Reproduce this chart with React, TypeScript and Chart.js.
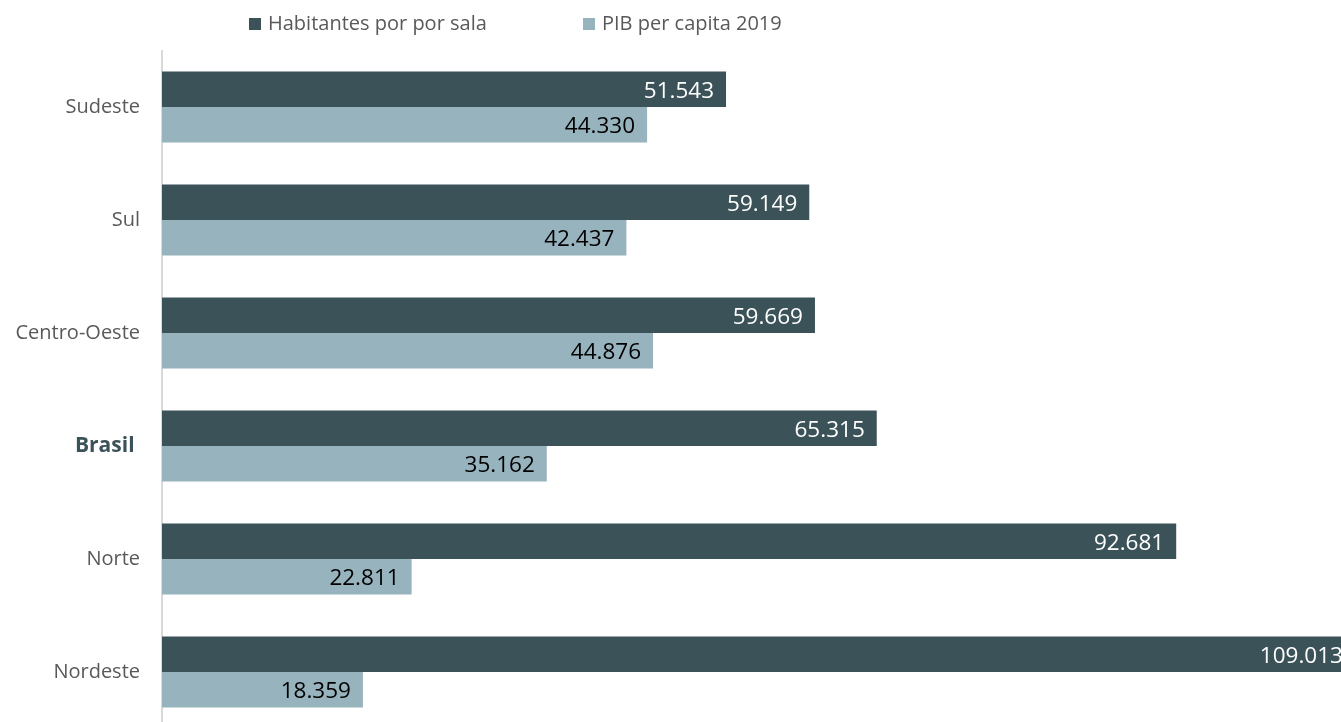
import React, { useEffect, useRef } from "react";
import { Chart, registerables } from "chart.js";

Chart.register(...registerables);

const categories = ["Sudeste", "Sul", "Centro-Oeste", "Brasil ", "Norte", "Nordeste"];
const habitantesPorSala = [51543, 59149, 59669, 65315, 92681, 109013];
const pibPerCapita = [44330, 42437, 44876, 35162, 22811, 18359];
const seriesNames = ["Habitantes por por sala", "PIB per capita 2019"];
const colors = ["#3b5258", "#97b3bd"];
const labelColors = ["#ffffff", "#000000"];

const fmt = (v: number) => {
  const s = Math.round(v).toString();
  return s.replace(/\B(?=(\d{3})+(?!\d))/g, ".");
};

const FONT = "'Open Sans', 'Noto Sans', sans-serif";
const CANVAS_H = 760;

const valueLabels = {
  id: "valueLabels",
  afterDatasetsDraw(chart: any) {
    const ctx = chart.ctx;
    ctx.save();
    ctx.font = `22.5px ${FONT}`;
    ctx.textAlign = "right";
    ctx.textBaseline = "middle";
    chart.data.datasets.forEach((ds: any, di: number) => {
      const meta = chart.getDatasetMeta(di);
      meta.data.forEach((el: any, i: number) => {
        ctx.fillStyle = labelColors[di];
        ctx.fillText(fmt(ds.data[i]), el.x - 12, el.y + 2);
      });
    });
    ctx.restore();
  },
};

const customLegend = {
  id: "customLegend",
  afterDraw(chart: any) {
    const ctx = chart.ctx;
    ctx.save();
    ctx.font = `20px ${FONT}`;
    ctx.textAlign = "left";
    ctx.textBaseline = "middle";
    const pos = [249, 583];
    seriesNames.forEach((name, i) => {
      ctx.fillStyle = colors[i];
      ctx.fillRect(pos[i], 18, 12, 12);
      ctx.fillStyle = "#595959";
      ctx.fillText(name, pos[i] + 19, 24);
    });
    ctx.restore();
  },
};

export default function App() {
  const ref = useRef<HTMLCanvasElement>(null);
  useEffect(() => {
    if (!ref.current) return;
    const chart = new Chart(ref.current, {
      type: "bar",
      data: {
        labels: categories,
        datasets: [
          {
            label: seriesNames[0],
            data: habitantesPorSala,
            backgroundColor: colors[0],
            categoryPercentage: 0.63,
            barPercentage: 1,
          },
          {
            label: seriesNames[1],
            data: pibPerCapita,
            backgroundColor: colors[1],
            categoryPercentage: 0.63,
            barPercentage: 1,
          },
        ],
      },
      options: {
        indexAxis: "y",
        responsive: false,
        maintainAspectRatio: false,
        animation: false,
        layout: { padding: { top: 50.5, bottom: CANVAS_H - 728.5, left: 0, right: 0 } },
        plugins: {
          legend: { display: false },
          tooltip: { enabled: false },
        },
        scales: {
          x: {
            display: false,
            min: 0,
            max: 107740,
          },
          y: {
            grid: { display: false, drawTicks: false },
            border: { color: "#d9d9d9", width: 2 },
            afterFit: (scale: any) => {
              scale.width = 162;
              scale.paddingTop = 0;
              scale.paddingBottom = 0;
            },
            ticks: {
              padding: 22,
              color: (c: any) => (c.index === 3 ? "#3b5258" : "#595959"),
              font: (c: any) =>
                c.index === 3
                  ? { family: FONT, size: 21, weight: "bold" }
                  : { family: FONT, size: 20 },
            },
          },
        },
      },
      plugins: [valueLabels, customLegend],
    } as any);
    return () => chart.destroy();
  }, []);
  return (
    <div style={{ position: "absolute", left: 0, top: 0, width: 1341, height: 722, overflow: "hidden" }}>
      <div style={{ width: 1341, height: CANVAS_H }}>
        <canvas ref={ref} width={1341} height={CANVAS_H} style={{ display: "block", width: 1341, height: CANVAS_H }} />
      </div>
    </div>
  );
}
